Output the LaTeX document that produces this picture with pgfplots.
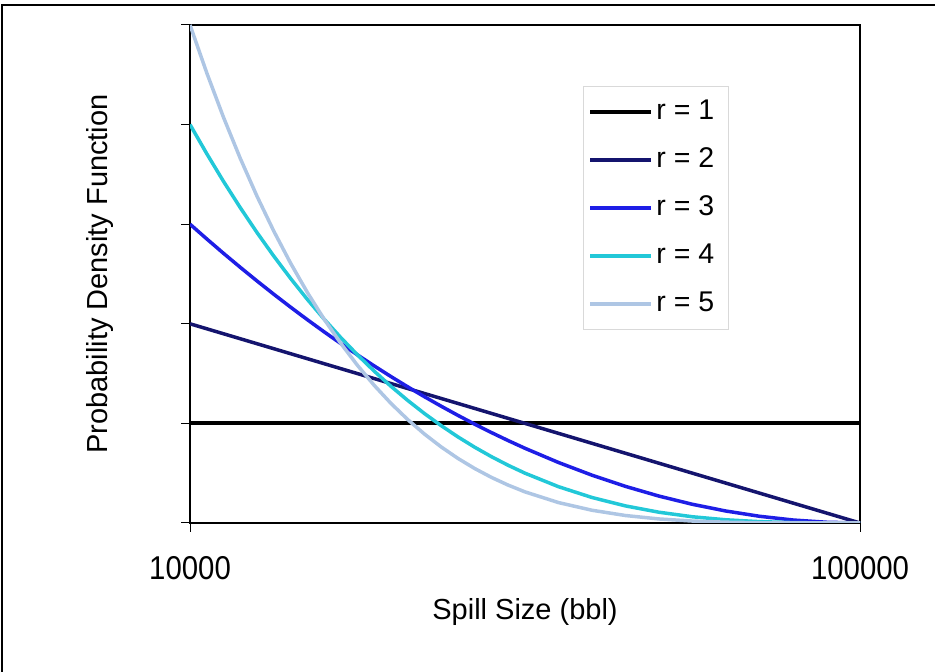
\documentclass[border=0pt]{standalone}
\usepackage{pgfplots}
\pgfplotsset{compat=1.18}
\usepackage{fontspec}
\setmainfont{Liberation Sans}
\newfontfamily\tallf{Liberation Sans}[FakeStretch=0.89]
\newcommand\bigf{\fontsize{29}{34}\selectfont}
\newcommand\tickf{\tallf\fontsize{33}{38}\selectfont}
\newcommand\legf{\fontsize{28.5}{33}\selectfont}
\definecolor{c1}{HTML}{000000}
\definecolor{c2}{HTML}{14146E}
\definecolor{c3}{HTML}{1E1EE6}
\definecolor{c4}{HTML}{22C8D8}
\definecolor{c5}{HTML}{AEC6E4}
\begin{document}
\begin{tikzpicture}
\useasboundingbox (0pt,0pt) rectangle (935pt,672pt);
\draw[line width=2pt] (2pt,0pt) -- (2pt,667pt) -- (935pt,667pt);
\begin{axis}[
  at={(190pt,149pt)}, anchor=south west,
  scale only axis, width=670pt, height=498pt,
  xmode=log, log basis x=10,
  xmin=10000, xmax=100000, ymin=0, ymax=5,
  xtick={10000,100000}, xticklabels={10000,100000},
  ytick={0,1,2,3,4,5}, yticklabels={},
  xtick pos=left, ytick pos=left,
  tick align=outside,
  major tick length=9pt, minor tick length=9pt,
  every tick/.style={black, line width=1pt},
  axis line style={line width=1.3pt},
  xticklabel style={font=\tickf, anchor=center, yshift=-36pt},
  xlabel={Spill Size (bbl)},
  ylabel={Probability Density Function},
  every axis x label/.style={at={(axis description cs:0.5,-0.179)}, anchor=center, font=\bigf},
  every axis y label/.style={at={(axis description cs:-0.134,0.5)}, anchor=center, rotate=90, font=\bigf},
  legend style={at={(axis description cs:0.5866,0.8775)}, anchor=north west,
    draw=black!15, line width=0.8pt, font=\legf,
    inner xsep=5pt, inner ysep=11pt, row sep=19pt,
    nodes={inner xsep=3pt, inner ysep=0pt, text height=22pt, text depth=7pt}},
  legend cell align=left,
  legend image code/.code={\draw[#1] (0pt,0pt) -- (61pt,0pt);},
]
\addplot[c1, line width=4pt] coordinates {(10000,1) (100000,1)};
\addlegendentry{\makebox[64pt][l]{r = 1}}
\addplot[c2, line width=3.5pt] coordinates {
(10000,2) (11220,1.9) (12589,1.8) (14125,1.7) (15849,1.6) (17783,1.5) (19953,1.4)
(22387,1.3) (25119,1.2) (28184,1.1) (31623,1.0) (35481,0.9) (39811,0.8) (44668,0.7)
(50119,0.6) (56234,0.5) (63096,0.4) (70795,0.3) (79433,0.2) (89125,0.1) (100000,0)};
\addlegendentry{r = 2}
\addplot[c3, line width=3.5pt] coordinates {
(10000,3) (10593,2.8519) (11220,2.7075) (11885,2.5669) (12589,2.43) (13335,2.2969) (14125,2.1675)
(14962,2.0419) (15849,1.92) (16788,1.8019) (17783,1.6875) (18836,1.5769) (19953,1.47)
(21135,1.3669) (22387,1.2675) (23714,1.1719) (25119,1.08) (26607,0.9919) (28184,0.9075)
(29854,0.8269) (31623,0.75) (35481,0.6075) (39811,0.48) (44668,0.3675)
(50119,0.27) (56234,0.1875) (63096,0.12) (70795,0.0675) (79433,0.03) (89125,0.0075) (100000,0)};
\addlegendentry{r = 3}
\addplot[c4, line width=3.5pt] coordinates {
(10000,4) (10593,3.7074) (11220,3.4295) (11885,3.1658) (12589,2.916) (13335,2.6797) (14125,2.4565)
(14962,2.2461) (15849,2.048) (16788,1.8619) (17783,1.6875) (18836,1.5243) (19953,1.372)
(21135,1.2302) (22387,1.0985) (23714,0.9766) (25119,0.864) (26607,0.7604) (28184,0.6655)
(29854,0.5788) (31623,0.5) (35481,0.3645) (39811,0.256) (44668,0.1715)
(50119,0.108) (56234,0.0625) (63096,0.032) (70795,0.0135) (79433,0.004) (89125,0.0005) (100000,0)};
\addlegendentry{r = 4}
\addplot[c5, line width=3.5pt] coordinates {
(10000,5) (10593,4.5184) (11220,4.0725) (11885,3.6605) (12589,3.2805) (13335,2.9309) (14125,2.61)
(14962,2.3163) (15849,2.048) (16788,1.8038) (17783,1.582) (18836,1.3814) (19953,1.2005)
(21135,1.0380) (22387,0.8925) (23714,0.7629) (25119,0.648) (26607,0.5466) (28184,0.4575)
(29854,0.3798) (31623,0.3125) (35481,0.205) (39811,0.128) (44668,0.075)
(50119,0.0405) (56234,0.0195) (63096,0.008) (70795,0.0025) (79433,0.0005) (89125,0) (100000,0)};
\addlegendentry{r = 5}
\end{axis}
\end{tikzpicture}
\end{document}
